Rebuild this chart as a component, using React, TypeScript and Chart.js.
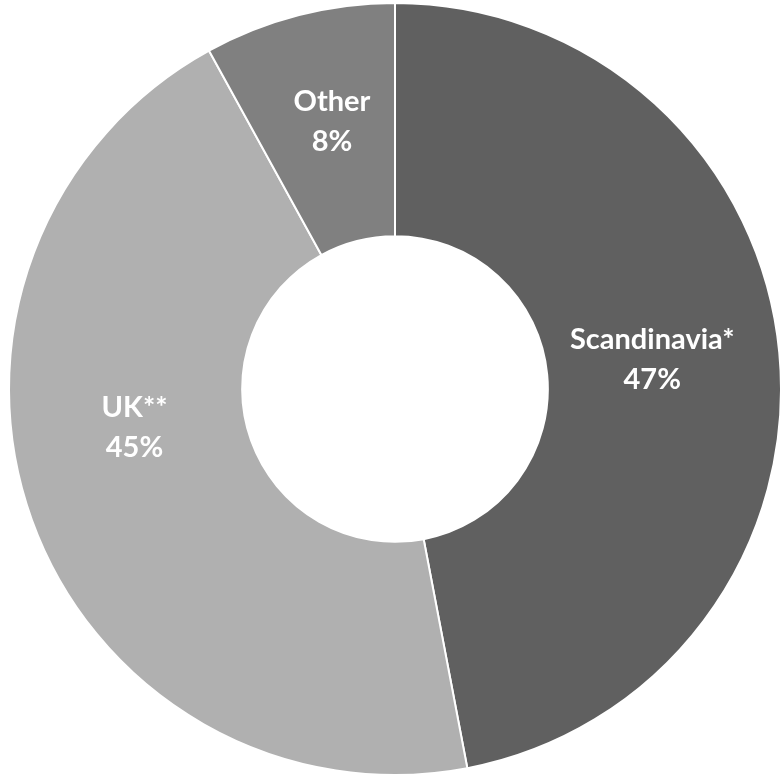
import React, { useEffect, useRef } from "react";
import { Chart, registerables } from "chart.js";

Chart.register(...registerables);

const categories = ["Scandinavia*", "UK**", "Other"];
const shares = [47, 45, 8];
const sliceColors = ["#606060", "#b0b0b0", "#808080"];
// label nudges (px) relative to each slice's centroid, Excel-style manual placement
const labelNudges = [
  [-11, -4],
  [-7, -53],
  [4, -6],
];

const labelPlugin = {
  id: "sliceLabels",
  afterDatasetsDraw(chart: any) {
    const ctx = chart.ctx;
    const meta = chart.getDatasetMeta(0);
    ctx.save();
    ctx.fillStyle = "#ffffff";
    ctx.font = "bold 29px Lato";
    ctx.textAlign = "center";
    ctx.textBaseline = "middle";
    meta.data.forEach((arc: any, i: number) => {
      const p = arc.tooltipPosition();
      const x = p.x + labelNudges[i][0];
      const y = p.y + labelNudges[i][1];
      ctx.fillText(categories[i], x, y - 20);
      ctx.fillText(shares[i] + "%", x, y + 20);
    });
    ctx.restore();
  },
};

export default function App() {
  const ref = useRef<HTMLCanvasElement>(null);
  useEffect(() => {
    document.body.style.margin = "0";
    const chart = new Chart(ref.current!, {
      type: "doughnut",
      data: {
        labels: categories,
        datasets: [
          {
            data: shares,
            backgroundColor: sliceColors,
            borderColor: "#ffffff",
            borderWidth: 2,
          },
        ],
      },
      options: {
        animation: false,
        responsive: false,
        cutout: "39.6%",
        layout: { padding: { left: 8, right: 0, top: 2, bottom: 7 } },
        plugins: {
          legend: { display: false },
          tooltip: { enabled: false },
        },
      },
      plugins: [labelPlugin],
    });
    return () => chart.destroy();
  }, []);
  return (
    <div style={{ width: 782, height: 783 }}>
      <canvas ref={ref} width={782} height={783} style={{ display: "block" }} />
    </div>
  );
}
